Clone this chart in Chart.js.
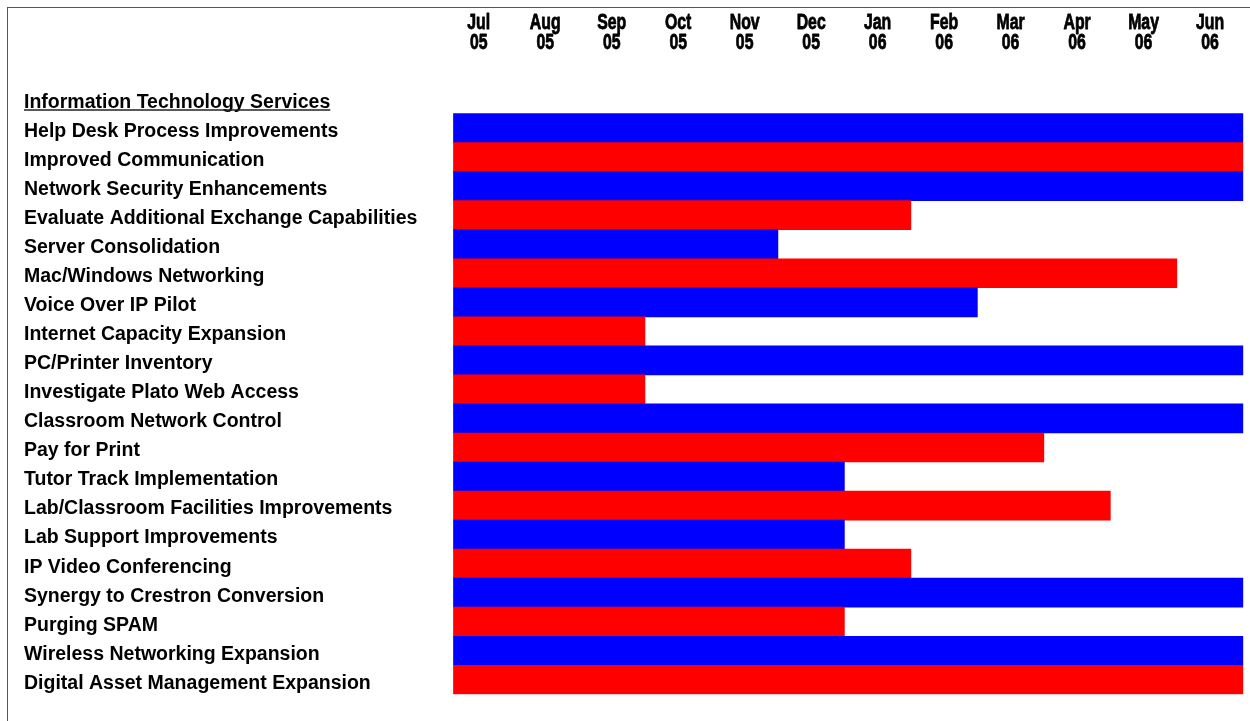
<!DOCTYPE html>
<html>
<head>
<meta charset="utf-8">
<title>Information Technology Services – Project Schedule</title>
<script src="https://cdn.jsdelivr.net/npm/chart.js@4/dist/chart.umd.min.js"></script>
<style>
  html, body { margin: 0; padding: 0; background: #ffffff; overflow: hidden; }
  #wrap { position: relative; width: 1250px; height: 721px; }
  #frame {
    position: absolute; left: 7px; top: 7px; width: 1300px; height: 800px;
    border-top: 1px solid #555; border-left: 1px solid #555;
    box-sizing: border-box; pointer-events: none;
  }
  canvas { position: absolute; left: 0; top: 0; }
</style>
</head>
<body>
<div id="wrap">
  <canvas id="gantt" width="1250" height="721"></canvas>
  <div id="frame"></div>
</div>
<script>
// Section heading shown above the task rows
const sectionTitle = 'Information Technology Services';

// Task names, top to bottom
const tasks = [
  'Help Desk Process Improvements',
  'Improved Communication',
  'Network Security Enhancements',
  'Evaluate Additional Exchange Capabilities',
  'Server Consolidation',
  'Mac/Windows Networking',
  'Voice Over IP Pilot',
  'Internet Capacity Expansion',
  'PC/Printer Inventory',
  'Investigate Plato Web Access',
  'Classroom Network Control',
  'Pay for Print',
  'Tutor Track Implementation',
  'Lab/Classroom Facilities Improvements',
  'Lab Support Improvements',
  'IP Video Conferencing',
  'Synergy to Crestron Conversion',
  'Purging SPAM',
  'Wireless Networking Expansion',
  'Digital Asset Management Expansion'
];

// Months elapsed since 1 Jul 2005 at which each task starts / ends
const taskStart = [0.12, 0.12, 0.12, 0.12, 0.12, 0.12, 0.12, 0.12, 0.12, 0.12,
                   0.12, 0.12, 0.12, 0.12, 0.12, 0.12, 0.12, 0.12, 0.12, 0.12];
const taskEnd   = [12, 12, 12, 7, 5, 11, 8, 3, 12, 3,
                   12, 9, 6, 10, 6, 7, 12, 6, 12, 12];

// Timeline column headings (month / two-digit year)
const monthLabels = [
  ['Jul', '05'], ['Aug', '05'], ['Sep', '05'], ['Oct', '05'],
  ['Nov', '05'], ['Dec', '05'], ['Jan', '06'], ['Feb', '06'],
  ['Mar', '06'], ['Apr', '06'], ['May', '06'], ['Jun', '06']
];

// Alternating row colours
const rowColors = ['#0000ff', '#ff0000'];

const labelFont = { family: '"Liberation Sans", Arial, sans-serif', size: 19.5, weight: 'bold' };
const monthFont = { family: '"Liberation Sans", Arial, sans-serif', size: 22, weight: 'bold', lineHeight: 20.5 / 22 };
const MONTH_SQUEEZE = 0.72;   // horizontal squeeze for the narrow month headings
const LABEL_SHIFT = 3.5;      // nudges task names down onto the row centre

const categories = [sectionTitle].concat(tasks);
const spans = [null].concat(tasks.map((t, i) => [taskStart[i], taskEnd[i]]));
const colors = ['rgba(0,0,0,0)'].concat(tasks.map((t, i) => rowColors[i % rowColors.length]));

// Custom label painting: condensed month headings and slightly lowered task names
const labelTweaks = {
  id: 'labelTweaks',
  beforeDraw(chart) {
    const xs = chart.scales.x;
    const ys = chart.scales.y;
    if (xs && !xs._squeezed) {
      xs._squeezed = true;
      xs.drawLabels = function (chartArea) {
        const ctx = this.ctx;
        const items = this.getLabelItems(chartArea);
        for (const item of items) {
          const o = item.options;
          const lines = Array.isArray(item.label) ? item.label : [item.label];
          ctx.save();
          ctx.translate(o.translation[0], o.translation[1]);
          ctx.scale(MONTH_SQUEEZE, 1);
          ctx.font = item.font.string;
          ctx.fillStyle = o.color;
          ctx.strokeStyle = o.color;
          ctx.lineWidth = 0.8;
          ctx.lineJoin = 'round';
          ctx.textAlign = o.textAlign;
          ctx.textBaseline = o.textBaseline;
          let y = item.textOffset;
          for (const line of lines) {
            ctx.fillText(line, 0, y);
            ctx.strokeText(line, 0, y);
            y += Number(item.font.lineHeight);
          }
          ctx.restore();
        }
      };
    }
    if (ys && !ys._shifted) {
      ys._shifted = true;
      const base = ys.drawLabels;
      ys.drawLabels = function (chartArea) {
        this.ctx.save();
        this.ctx.translate(0, LABEL_SHIFT);
        base.call(this, chartArea);
        this.ctx.restore();
      };
    }
  },
  // Underlines the section heading in the task column
  afterDraw(chart) {
    const y = chart.scales.y;
    const ctx = chart.ctx;
    ctx.save();
    ctx.font = `${labelFont.weight} ${labelFont.size}px ${labelFont.family}`;
    const w = ctx.measureText(sectionTitle).width;
    const py = y.getPixelForValue(0) + 11;
    ctx.strokeStyle = '#222';
    ctx.lineWidth = 1.6;
    ctx.beginPath();
    ctx.moveTo(y.left, py);
    ctx.lineTo(y.left + w, py);
    ctx.stroke();
    ctx.restore();
  }
};

new Chart(document.getElementById('gantt'), {
  type: 'bar',
  data: {
    labels: categories,
    datasets: [{
      data: spans,
      backgroundColor: colors,
      borderWidth: 0,
      categoryPercentage: 1.0,
      barPercentage: 1.0
    }]
  },
  options: {
    indexAxis: 'y',
    responsive: false,
    animation: false,
    devicePixelRatio: 1,
    layout: { padding: { left: 24, right: 6.7, top: 0, bottom: 26.7 } },
    plugins: { legend: { display: false }, tooltip: { enabled: false }, title: { display: false } },
    scales: {
      x: {
        type: 'linear',
        position: 'top',
        min: 0,
        max: 12,
        grid: { display: false, drawTicks: false, tickLength: 0 },
        border: { display: false },
        afterBuildTicks(scale) {
          scale.ticks = monthLabels.map((m, i) => ({ value: i + 0.5 }));
        },
        afterFit(scale) {
          scale.height = 84.5;
          scale.paddingLeft = 0;
          scale.paddingRight = 0;
        },
        ticks: {
          autoSkip: false,
          maxRotation: 0,
          padding: 31,
          color: '#000',
          font: monthFont,
          callback: (value, index) => monthLabels[index]
        }
      },
      y: {
        type: 'category',
        grid: { display: false, drawTicks: false, tickLength: 0 },
        border: { display: false },
        afterFit(scale) { scale.width = 421.5; },
        ticks: {
          autoSkip: false,
          crossAlign: 'far',
          padding: 0,
          color: '#000',
          font: labelFont
        }
      }
    }
  },
  plugins: [labelTweaks]
});
</script>
</body>
</html>
